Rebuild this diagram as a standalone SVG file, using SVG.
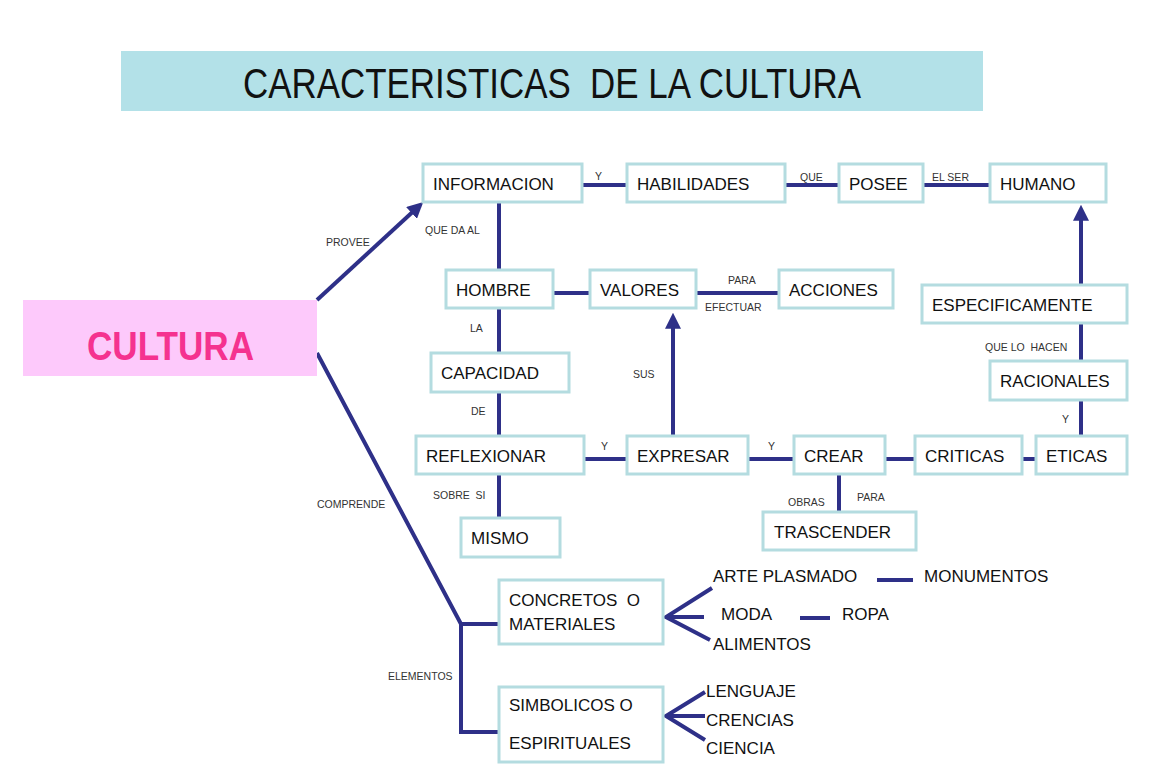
<svg xmlns="http://www.w3.org/2000/svg" width="1149" height="767" viewBox="0 0 1149 767">
<defs>
<style>
.box{fill:#ffffff;stroke:#b4dce0;stroke-width:3}
.t{font-family:"Liberation Sans",Arial,sans-serif;font-size:17px;fill:#111;white-space:pre}
.s{font-family:"Liberation Sans",Arial,sans-serif;font-size:10.5px;fill:#333;white-space:pre}
.ln{stroke:#2e3088;stroke-width:4;fill:none}
</style>
<marker id="ah" markerWidth="4" markerHeight="4" refX="2.2" refY="2" orient="auto" markerUnits="strokeWidth">
<path d="M0,0 L4,2 L0,4 Z" fill="#2e3088"/>
</marker>
</defs>
<rect width="1149" height="767" fill="#ffffff"/>
<g id="title">
<rect x="121" y="51" width="862" height="60" fill="#b3e1e8"/>
<text x="243" y="98" font-family="'Liberation Sans',Arial,sans-serif" font-size="43" fill="#111" textLength="618" lengthAdjust="spacingAndGlyphs" xml:space="preserve">CARACTERISTICAS  DE LA CULTURA</text>
</g>
<g id="connectors">
<line class="ln" x1="317" y1="300" x2="418" y2="207" marker-end="url(#ah)"/>
<polyline class="ln" points="317,353 461,624 461,732 498,732"/>
<line class="ln" x1="461" y1="624" x2="498" y2="624"/>
<line class="ln" x1="582" y1="185" x2="627" y2="185"/>
<line class="ln" x1="785" y1="185" x2="839" y2="185"/>
<line class="ln" x1="923" y1="185" x2="990" y2="185"/>
<line class="ln" x1="499" y1="202" x2="499" y2="270"/>
<line class="ln" x1="553" y1="293" x2="590" y2="293"/>
<line class="ln" x1="696" y1="293" x2="779" y2="293"/>
<line class="ln" x1="499" y1="308" x2="499" y2="353"/>
<line class="ln" x1="499" y1="392" x2="499" y2="436"/>
<line class="ln" x1="499" y1="474" x2="499" y2="518"/>
<line class="ln" x1="584" y1="459" x2="627" y2="459"/>
<line class="ln" x1="748" y1="459" x2="794" y2="459"/>
<line class="ln" x1="885" y1="459" x2="915" y2="459"/>
<line class="ln" x1="1022" y1="459" x2="1036" y2="459"/>
<line class="ln" x1="673" y1="436" x2="673" y2="320" marker-end="url(#ah)"/>
<line class="ln" x1="839" y1="474" x2="839" y2="512"/>
<line class="ln" x1="1081" y1="400" x2="1081" y2="436"/>
<line class="ln" x1="1081" y1="323" x2="1081" y2="361"/>
<line class="ln" x1="1081" y1="285" x2="1081" y2="212" marker-end="url(#ah)"/>
<polyline class="ln" points="712,588 666,617 710,640"/>
<line class="ln" x1="666" y1="617" x2="704" y2="617"/>
<line class="ln" x1="877" y1="580" x2="913" y2="580"/>
<line class="ln" x1="800" y1="618" x2="830" y2="618"/>
<polyline class="ln" points="705,692 666,716 705,740"/>
<line class="ln" x1="666" y1="716" x2="705" y2="716"/>
</g>
<g id="labels">
<text class="s" x="326" y="246">PROVEE</text>
<text class="s" x="317" y="508">COMPRENDE</text>
<text class="s" x="388" y="680">ELEMENTOS</text>
<text class="s" x="595" y="180">Y</text>
<text class="s" x="800" y="181">QUE</text>
<text class="s" x="932" y="181">EL SER</text>
<text class="s" x="425" y="234">QUE DA AL</text>
<text class="s" x="728" y="284">PARA</text>
<text class="s" x="705" y="311">EFECTUAR</text>
<text class="s" x="470" y="332">LA</text>
<text class="s" x="633" y="378">SUS</text>
<text class="s" x="471" y="415">DE</text>
<text class="s" x="601" y="450">Y</text>
<text class="s" x="768" y="450">Y</text>
<text class="s" x="433" y="499" xml:space="preserve">SOBRE  SI</text>
<text class="s" x="788" y="506">OBRAS</text>
<text class="s" x="857" y="501">PARA</text>
<text class="s" x="1062" y="423">Y</text>
<text class="s" x="985" y="351" xml:space="preserve">QUE LO  HACEN</text>
</g>
<g id="cultura">
<rect x="23" y="300" width="294" height="76" fill="#fdc9fb"/>
<text x="87" y="360" font-family="'Liberation Sans',Arial,sans-serif" font-size="41" font-weight="bold" fill="#f5328f" textLength="167" lengthAdjust="spacingAndGlyphs">CULTURA</text>
</g>
<g id="informacion"><rect class="box" x="423" y="164" width="159" height="38"/><text class="t" x="433" y="190">INFORMACION</text></g>
<g id="habilidades"><rect class="box" x="627" y="164" width="158" height="38"/><text class="t" x="637" y="190">HABILIDADES</text></g>
<g id="posee"><rect class="box" x="839" y="164" width="84" height="38"/><text class="t" x="849" y="190">POSEE</text></g>
<g id="humano"><rect class="box" x="990" y="164" width="116" height="38"/><text class="t" x="1000" y="190">HUMANO</text></g>
<g id="hombre"><rect class="box" x="446" y="270" width="107" height="38"/><text class="t" x="456" y="296">HOMBRE</text></g>
<g id="valores"><rect class="box" x="590" y="270" width="106" height="38"/><text class="t" x="600" y="296">VALORES</text></g>
<g id="acciones"><rect class="box" x="779" y="270" width="114" height="38"/><text class="t" x="789" y="296">ACCIONES</text></g>
<g id="especificamente"><rect class="box" x="922" y="285" width="205" height="38"/><text class="t" x="932" y="311">ESPECIFICAMENTE</text></g>
<g id="capacidad"><rect class="box" x="431" y="353" width="138" height="39"/><text class="t" x="441" y="379">CAPACIDAD</text></g>
<g id="racionales"><rect class="box" x="990" y="361" width="137" height="39"/><text class="t" x="1000" y="387">RACIONALES</text></g>
<g id="reflexionar"><rect class="box" x="416" y="436" width="168" height="38"/><text class="t" x="426" y="462">REFLEXIONAR</text></g>
<g id="expresar"><rect class="box" x="627" y="436" width="121" height="38"/><text class="t" x="637" y="462">EXPRESAR</text></g>
<g id="crear"><rect class="box" x="794" y="436" width="91" height="38"/><text class="t" x="804" y="462">CREAR</text></g>
<g id="criticas"><rect class="box" x="915" y="436" width="107" height="38"/><text class="t" x="925" y="462">CRITICAS</text></g>
<g id="eticas"><rect class="box" x="1036" y="436" width="91" height="38"/><text class="t" x="1046" y="462">ETICAS</text></g>
<g id="mismo"><rect class="box" x="461" y="518" width="99" height="39"/><text class="t" x="471" y="544">MISMO</text></g>
<g id="trascender"><rect class="box" x="763" y="512" width="153" height="38"/><text class="t" x="774" y="538">TRASCENDER</text></g>
<g id="concretos"><rect class="box" x="499" y="580" width="164" height="64"/><text class="t" x="509" y="606" xml:space="preserve">CONCRETOS  O</text><text class="t" x="509" y="630">MATERIALES</text></g>
<g id="simbolicos"><rect class="box" x="499" y="687" width="164" height="75"/><text class="t" x="509" y="711">SIMBOLICOS O</text><text class="t" x="509" y="749">ESPIRITUALES</text></g>
<g id="leaves">
<text class="t" x="713" y="582">ARTE PLASMADO</text>
<text class="t" x="924" y="582">MONUMENTOS</text>
<text class="t" x="721" y="620">MODA</text>
<text class="t" x="842" y="620">ROPA</text>
<text class="t" x="713" y="650">ALIMENTOS</text>
<text class="t" x="706" y="697">LENGUAJE</text>
<text class="t" x="706" y="726">CRENCIAS</text>
<text class="t" x="706" y="754">CIENCIA</text>
</g>
</svg>
